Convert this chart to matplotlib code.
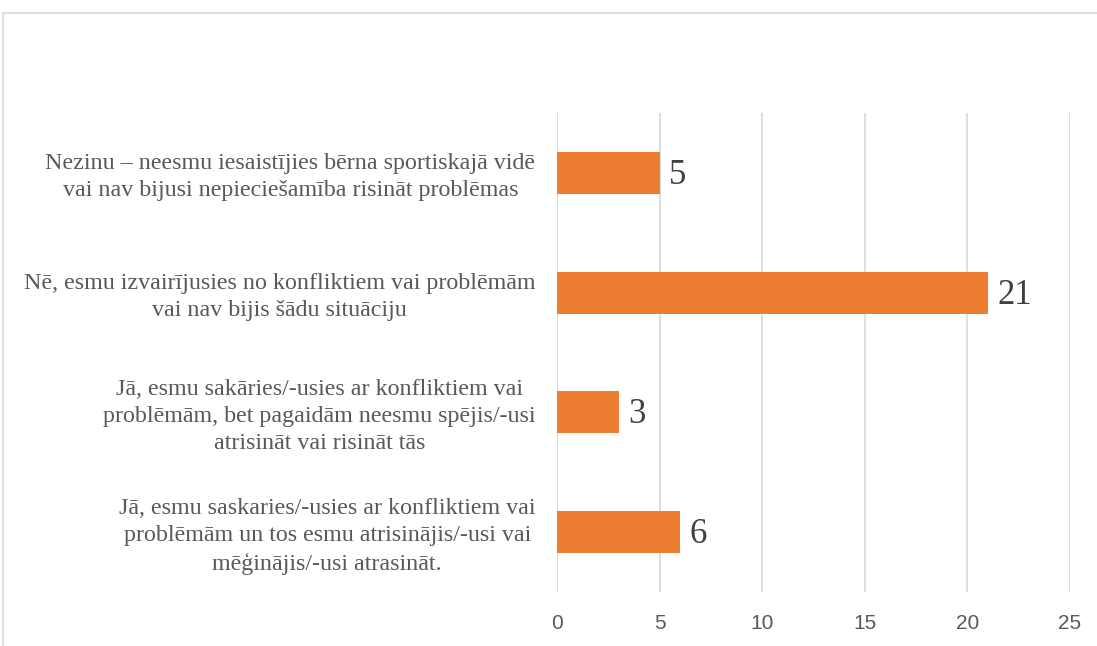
import matplotlib.pyplot as plt
from matplotlib.patches import Rectangle

categories = [
    "Jā, esmu saskaries/-usies ar konfliktiem vai\nproblēmām un tos esmu atrisinājis/-usi vai\nmēģinājis/-usi atrasināt.",
    "Jā, esmu sakāries/-usies ar konfliktiem vai\nproblēmām, bet pagaidām neesmu spējis/-usi\natrisināt vai risināt tās",
    "Nē, esmu izvairījusies no konfliktiem vai problēmām\nvai nav bijis šādu situāciju",
    "Nezinu – neesmu iesaistījies bērna sportiskajā vidē\nvai nav bijusi nepieciešamība risināt problēmas",
]
values = [6, 3, 21, 5]
xticks = [0, 5, 10, 15, 20, 25]

W, H = 1097, 646
fig = plt.figure(figsize=(W / 100, H / 100), dpi=100)
ax = fig.add_axes([557 / W, 1 - 592 / H, (1070 - 557) / W, (592 - 113) / H])

# chart-area border (cut off on right and bottom like the screenshot)
fig.patches.append(Rectangle((3 / W, -0.1), 1.2, (H - 13) / H + 0.1,
                             transform=fig.transFigure, fill=False,
                             edgecolor="#D9D9D9", linewidth=1.2))

pos = range(len(values))
ax.barh(pos, values, height=0.35, color="#ED7D31", zorder=3)
ax.set_xlim(0, 25)
ax.set_ylim(-0.5, 3.5)
ax.set_xticks(xticks)
ax.grid(axis="x", color="#D9D9D9", linewidth=1.2, zorder=0)
for s in ax.spines.values():
    s.set_visible(False)
ax.tick_params(axis="both", length=0)
ax.set_xticklabels([str(t) for t in xticks], family="Liberation Sans",
                   fontsize=15, color="#595959")
ax.tick_params(axis="x", pad=16)
ax.set_yticks([])

for p, v, c in zip(pos, values, categories):
    ax.text(-1.05, p - 0.035, c, ha="right", va="center", multialignment="center",
            family="Liberation Serif", fontsize=17.3, color="#595959",
            linespacing=1.4)
    ax.text(v + 0.45, p - 0.02, str(v), ha="left", va="center",
            family="Liberation Serif", fontsize=25, color="#404040")

fig.savefig("out.png", dpi=100)
